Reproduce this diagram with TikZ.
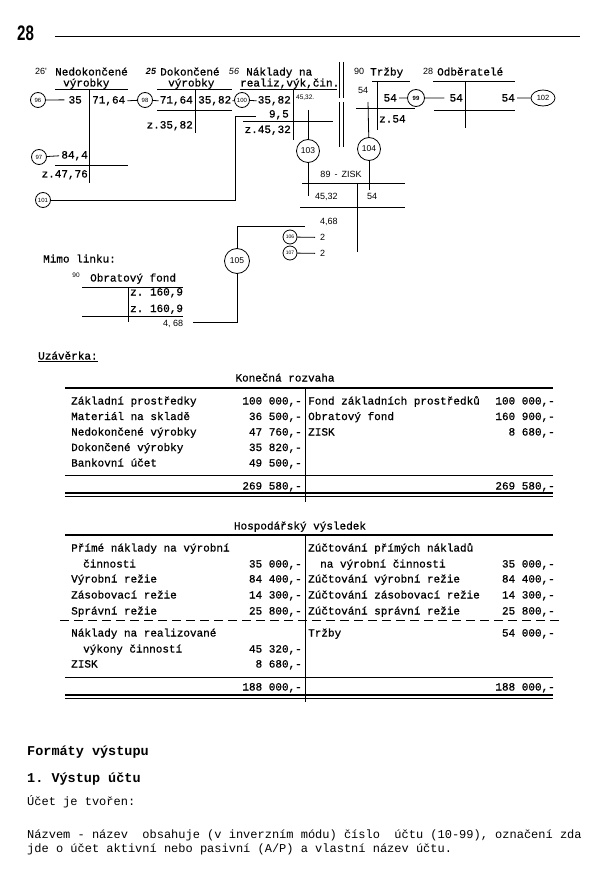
\documentclass[tikz,border=0pt]{standalone}
\usepackage{fontspec}
\usetikzlibrary{shapes.geometric}
\newfontfamily\tabfontbase[FakeBold=0.8]{Liberation Mono}
\newfontfamily\bodyfont{Liberation Mono}
\newfontfamily\handfont{Liberation Sans}
\newcommand{\tabf}{\tabfontbase\fontsize{11}{13}\selectfont}
\tikzset{
  tx/.style={font=\tabf, inner sep=0pt},
  hw/.style={font=\handfont\fontsize{9}{10}\selectfont, inner sep=0pt},
  hws/.style={font=\handfont\fontsize{6.5}{7}\selectfont, inner sep=0pt},
  cir/.style={draw, circle, inner sep=0pt, minimum size=15pt, line width=0.8pt, font=\handfont\fontsize{6}{6}\selectfont},
  cirbig/.style={draw, circle, inner sep=0pt, minimum size=23pt, line width=0.8pt, font=\handfont\fontsize{8.5}{9}\selectfont},
  cirsm/.style={draw, circle, inner sep=0pt, minimum size=14pt, line width=0.8pt, font=\handfont\fontsize{5}{5}\selectfont},
  ell/.style={draw, ellipse, inner sep=0pt, minimum width=24pt, minimum height=16pt, line width=0.8pt, font=\handfont\fontsize{7.5}{8}\selectfont},
  rule/.style={line width=0.9pt},
  con/.style={line width=0.8pt},
  tline/.style={line width=1.3pt},
  body/.style={font=\bodyfont\fontsize{12}{13.6}\selectfont, inner sep=0pt, anchor=base west},
  head/.style={font=\bodyfont\bfseries\fontsize{13.5}{15}\selectfont, inner sep=0pt, anchor=base west},
  lab/.style={tx, anchor=base west},
  num/.style={tx, anchor=base east},
}
\begin{document}
\frenchspacing
\begin{tikzpicture}[x=1pt, y=-1pt]
\fill[white] (0,0) rectangle (600,885);
\useasboundingbox (0,0) rectangle (600,885);

% page header
\node[font=\handfont\bfseries\fontsize{21}{21}\selectfont, inner sep=0pt, anchor=base west] (pg) at (17,41) {\scalebox{0.72}[1]{28}};
\draw[con] (55,36) -- (580,36);

% ---- account 26
\node[hw, anchor=base] (n26) at (41,75) {26'};
\node[lab] (t26a) at (55,75.5) {Nedokončené};
\node[lab] (t26b) at (63,86.5) {výrobky};
\draw[rule] (55,89) -- (128,89);
\draw[rule] (89,89) -- (89,183);
\node[cir] (c96) at (38,100) {96};
\node[num] (v26a) at (82,103.5) {35};
\draw[con] (c96) -- ([xshift=-4pt]v26a.west);
\node[lab] (v26b) at (92,103.5) {71,64};
\node[cir] (c97) at (39,157) {97};
\node[num] (v26c) at (88,158.5) {84,4};
\draw[con] (c97) -- ([xshift=-2pt]v26c.west);
\draw[rule] (55,165) -- (128,165);
\node[num] (v26d) at (88,177.5) {z.47,76};
\node[cir] (c101) at (43,200) {101};

% ---- account 25
\node[hw, anchor=base] (n25) at (151,75) {\itshape\bfseries 25};
\node[lab] (t25a) at (160,75.5) {Dokončené};
\node[lab] (t25b) at (168,86.5) {výrobky};
\draw[rule] (157,89) -- (232,89);
\draw[rule] (195,89) -- (195,133);
\node[cir] (c98) at (145,100) {98};
\node[num] (v25a) at (193,103.5) {71,64};
\node[lab] (v25b) at (198,103.5) {35,82};
\draw[rule] (157,110) -- (232,110);
\node[num] (v25c) at (193,128.5) {z.35,82};
\draw[con] ([xshift=2pt]v26b.east) -- (c98);
\draw[con] (c98) -- ([xshift=-1pt]v25a.west);

% ---- account 56
\node[hw, anchor=base] (n56) at (234,75) {\itshape 56};
\node[lab] (t56a) at (246,75.5) {Náklady na};
\node[lab] (t56b) at (240,86.5) {realiz,výk,čin.};
\draw[rule] (240,89) -- (337,89);
\draw[rule] (293,89) -- (293,140);
\node[cir] (c100) at (242,100) {100};
\draw[con] ([xshift=1pt]v25b.east) -- (c100);
\node[num] (v56a) at (291,103.5) {35,82};
\draw[con] (c100) -- ([xshift=-1pt]v56a.west);
\node[hws, anchor=base west] (v56x) at (296,99.5) {45,32.};
\node[num] (v56b) at (289,117.5) {9,5};
\draw[rule] (243,121) -- (333,121);
\node[num] (v56c) at (291,133) {z.45,32};
\coordinate (k1) at (235,200);
\coordinate (k2) at (235,116);
\coordinate (k3) at (256,116);
\draw[con] (c101) -- (k1) -- (k2) -- (k3);

% connector 103
\coordinate (t103) at (308,110);
\node[cirbig] (c103) at (308,151) {103};
\coordinate (b103) at (308,196);
\draw[con] (t103) -- (c103);
\draw[con] (c103) -- (b103);

% double separator
\draw[con] (339,62) -- (339,98);
\draw[con] (339,102) -- (339,147);
\draw[con] (343,62) -- (343,98);
\draw[con] (343,102) -- (343,147);

% ---- account 90 Trzby
\node[hw, anchor=base] (n90) at (359,75) {90};
\node[lab] (t90) at (370,75.5) {Tržby};
\draw[rule] (372,81) -- (410,81);
\draw[rule] (377,81) -- (377,130);
\node[hw, anchor=base] (v90x) at (363,94) {54};
\node[num] (v90a) at (397,101.5) {54};
\node[cir, minimum size=17pt] (c99) at (416,98) {\bfseries 99};
\draw[con] ([xshift=2pt]v90a.east) -- (c99);
\draw[rule] (356,108) -- (415,108);
\node[lab] (v90b) at (379,122.5) {z.54};

% connector 104
\coordinate (t104) at (368,102);
\node[cirbig] (c104) at (369,149) {104};
\coordinate (b104) at (369,190);
\draw[con] (t104) -- (c104);
\draw[con] (c104) -- (b104);

% ---- account 28 Odberatele
\node[hw, anchor=base] (n28) at (428,75) {28};
\node[lab] (t28) at (437,75.5) {Odběratelé};
\draw[rule] (433,81) -- (515,81);
\draw[rule] (465,81) -- (465,128);
\node[num] (v28a) at (463,101.5) {54};
\draw[con] (c99) -- ([xshift=-5pt]v28a.west);
\node[num] (v28b) at (515,101.5) {54};
\node[ell] (c102) at (543,98) {102};
\draw[con] ([xshift=2pt]v28b.east) -- (c102);
\draw[rule] (434,110) -- (515,110);

% ---- account 89 ZISK
\node[hw, anchor=base] (t89) at (341,177.5) {89 \,-\, ZISK};
\draw[rule] (302,183) -- (405,183);
\draw[rule] (357,183) -- (357,252);
\node[hw, anchor=base west] (v89a) at (315,199.5) {45,32};
\node[hw, anchor=base west] (v89b) at (367,199.5) {54};
\draw[rule] (300,207) -- (405,207);
\node[hw, anchor=base west] (h468) at (320,224.5) {4,68};
\node[cirsm] (c106) at (290,237) {106};
\node[hw, anchor=base west] (h2a) at (320,240.5) {2};
\draw[con] (c106) -- ([xshift=-5pt]h2a.west);
\node[cirsm] (c107) at (290,253) {107};
\node[hw, anchor=base west] (h2b) at (320,256.5) {2};
\draw[con] (c107) -- ([xshift=-5pt]h2b.west);

% connector 105
\node[cirbig, minimum size=25pt] (c105) at (237,261) {105};
\coordinate (k4) at (237,226);
\coordinate (k5) at (305,226);
\coordinate (k6) at (237,322);
\coordinate (k7) at (193,322);
\draw[con] (c105) -- (k4) -- (k5);
\draw[con] (c105) -- (k6) -- (k7);

% ---- Mimo linku
\node[lab] (mimo) at (43,262.5) {Mimo linku:};
\node[hws, anchor=base] (n90b) at (76,277) {90};
\node[lab] (tof) at (90,281.5) {Obratový fond};
\draw[rule] (82,287) -- (183,287);
\draw[rule] (128,287) -- (128,322);
\node[lab] (of1) at (130,295.5) {z. 160,9};
\node[lab] (of2) at (130,312) {z. 160,9};
\draw[rule] (82,316) -- (183,316);
\node[hw, anchor=base west] (h468b) at (163,326.5) {4, 68};

% ---- Uzaverka
\node[lab] (uz) at (38,359.5) {\underline{Uzávěrka:}};

% Konecna rozvaha
\node[tx, anchor=base] (kr) at (285,381.5) {Konečná rozvaha};
\draw[tline] (65,388) -- (553,388);
\draw[rule] (305,388) -- (305,502);
\node[lab] at (71,404.5) {Základní prostředky};
\node[num] at (302,404.5) {100 000,-};
\node[lab] at (308,404.5) {Fond základních prostředků};
\node[num] at (555,404.5) {100 000,-};
\node[lab] at (71,420) {Materiál na skladě};
\node[num] at (302,420) {36 500,-};
\node[lab] at (308,420) {Obratový fond};
\node[num] at (555,420) {160 900,-};
\node[lab] at (71,435.5) {Nedokončené výrobky};
\node[num] at (302,435.5) {47 760,-};
\node[lab] at (308,435.5) {ZISK};
\node[num] at (555,435.5) {8 680,-};
\node[lab] at (71,451) {Dokončené výrobky};
\node[num] at (302,451) {35 820,-};
\node[lab] at (71,466.5) {Bankovní účet};
\node[num] at (302,466.5) {49 500,-};
\draw[rule] (65,475) -- (553,475);
\node[num] (krt1) at (302,489.5) {269 580,-};
\node[num] (krt2) at (555,489.5) {269 580,-};
\draw[tline] (65,493) -- (553,493);
\draw[tline] (65,496.5) -- (553,496.5);

% Hospodarsky vysledek
\node[tx, anchor=base] (hv) at (300,529.5) {Hospodářský výsledek};
\draw[tline] (65,535) -- (553,535);
\draw[rule] (305,535) -- (305,702);
\node[lab] at (71,551.5) {Přímé náklady na výrobní};
\node[lab] at (83,567.5) {činnosti};
\node[num] at (302,567.5) {35 000,-};
\node[lab] at (71,582.5) {Výrobní režie};
\node[num] at (302,582.5) {84 400,-};
\node[lab] at (71,598.5) {Zásobovací režie};
\node[num] at (302,598.5) {14 300,-};
\node[lab] at (71,614.5) {Správní režie};
\node[num] at (302,614.5) {25 800,-};
\node[lab] at (308,551.5) {Zúčtování přímých nákladů};
\node[lab] at (320,567.5) {na výrobní činnosti};
\node[num] at (555,567.5) {35 000,-};
\node[lab] at (308,582.5) {Zúčtování výrobní režie};
\node[num] at (555,582.5) {84 400,-};
\node[lab] at (308,598.5) {Zúčtování zásobovací režie};
\node[num] at (555,598.5) {14 300,-};
\node[lab] at (308,614.5) {Zúčtování správní režie};
\node[num] at (555,614.5) {25 800,-};
\draw[line width=1pt, dash pattern=on 9pt off 5pt] (60,620) -- (560,620);
\node[lab] at (71,636.5) {Náklady na realizované};
\node[lab] at (83,652.5) {výkony činností};
\node[num] at (302,652.5) {45 320,-};
\node[lab] at (71,667.5) {ZISK};
\node[num] at (302,667.5) {8 680,-};
\node[lab] at (308,636.5) {Tržby};
\node[num] at (555,636.5) {54 000,-};
\draw[rule] (65,677) -- (553,677);
\node[num] (hvt1) at (302,690.5) {188 000,-};
\node[num] (hvt2) at (555,690.5) {188 000,-};
\draw[tline] (65,695) -- (553,695);
\draw[tline] (65,698.5) -- (553,698.5);

% ---- bottom text
\node[head] (h1) at (27,755) {Formáty výstupu};
\node[head] (h2) at (27,782) {1. Výstup účtu};
\node[body] (p0) at (27,805) {Účet je tvořen:};
\node[body] (p1) at (27,838) {Názvem - název~ obsahuje (v inverzním módu) číslo~ účtu (10-99), označení zda};
\node[body] (p2) at (27,852) {jde o účet aktivní nebo pasivní (A/P) a vlastní název účtu.};
\end{tikzpicture}
\end{document}
